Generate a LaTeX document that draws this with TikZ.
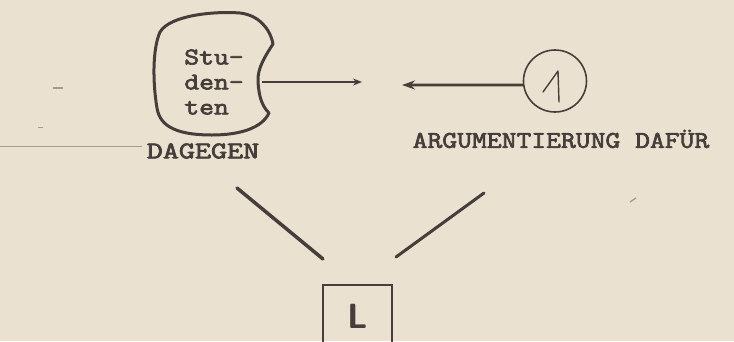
\documentclass[tikz,border=0pt]{standalone}
\usepackage{graphicx}
\usepackage{fontspec}
\newfontfamily\twfont{Latin Modern Mono}[FakeBold=2.6]
\usetikzlibrary{arrows.meta,shapes.geometric}
\definecolor{paper}{RGB}{235,225,209}
\definecolor{ink}{RGB}{70,62,58}
\definecolor{faint}{RGB}{165,155,145}
\newcommand{\stretchtxt}[1]{\scalebox{1.2}[1]{#1}}
\newcommand{\widetxt}[1]{\scalebox{1.3}[1]{#1}}
\begin{document}
\begin{tikzpicture}[x=1pt,y=-1pt,
  tw/.style={font=\fontsize{24}{25}\selectfont\twfont, text=ink, inner sep=0pt},
  blob/.style={draw=ink, line width=3pt, line join=round},
  thinarrow/.style={draw=ink, line width=1.5pt, -{Stealth[length=9pt,width=7pt]}},
  thickarrow/.style={draw=ink, line width=2.8pt, -{Stealth[length=13pt,width=9pt]}},
  stroke/.style={draw=ink, line width=3.5pt, line cap=round},
  circ/.style={ellipse, draw=ink, line width=1.6pt, minimum width=63pt, minimum height=62pt, inner sep=0pt},
  lbox/.style={rectangle, draw=ink, line width=2pt, minimum width=69pt, minimum height=62pt, inner sep=0pt,
    text=ink, font=\fontsize{35}{35}\selectfont\sffamily\bfseries},
  straymark/.style={draw=faint, line width=1pt}]
\fill[paper] (0,0) rectangle (734,341);
\useasboundingbox (0,0) rectangle (734,341);

% stray marks of the scan
\draw[straymark] (0,146) -- (142,146);
\draw[straymark, line width=1.5pt] (53,88) -- (63,88);
\draw[straymark] (38,127) -- (43,127);
\draw[straymark, line width=1.3pt] (630,202) -- (636,198);

% Studenten blob
\draw[blob] (273,44) .. controls (266,55) and (257,68) .. (258,82)
  .. controls (259,97) and (262,106) .. (269,113)
  .. controls (262,128) and (240,135) .. (212,135)
  .. controls (180,135) and (160,128) .. (157,108)
  .. controls (153,85) and (152,50) .. (160,32)
  .. controls (170,15) and (215,11) .. (240,13)
  .. controls (258,15) and (270,28) .. (273,44) -- cycle;
\node[tw, align=left] (stud) at (214,82) {\stretchtxt{Stu-}\\\stretchtxt{den-}\\\stretchtxt{ten}};

% circle 1
\node[circ] (one) at (555,81) {};
\draw[draw=ink, line width=1.4pt, line join=round, line cap=round] (543,92) -- (558,71) -- (559,102);

% arrows
\coordinate (a1s) at (262,82);
\coordinate (a1e) at (362,82);
\draw[thinarrow] (a1s) -- (a1e);
\coordinate (tipB) at (402,85);
\draw[thickarrow] (one.187) -- (tipB);

% labels
\node[tw] (dag) at (203,151) {\widetxt{DAGEGEN}};
\node[tw] (arg) at (561,139) {\stretchtxt{ARGUMENTIERUNG DAFÜR}};

% box L
\begin{scope}
\clip (0,0) rectangle (734,341);
\node[lbox] (L) at (357.5,316) {L};
\end{scope}

% strokes toward L
\coordinate (sa1) at (237,188);
\coordinate (sa2) at (323,259);
\coordinate (sb1) at (484,193);
\coordinate (sb2) at (396,257);
\draw[stroke] (sa1) -- (sa2);
\draw[stroke, line width=3pt] (sb1) -- (sb2);
\end{tikzpicture}
\end{document}
